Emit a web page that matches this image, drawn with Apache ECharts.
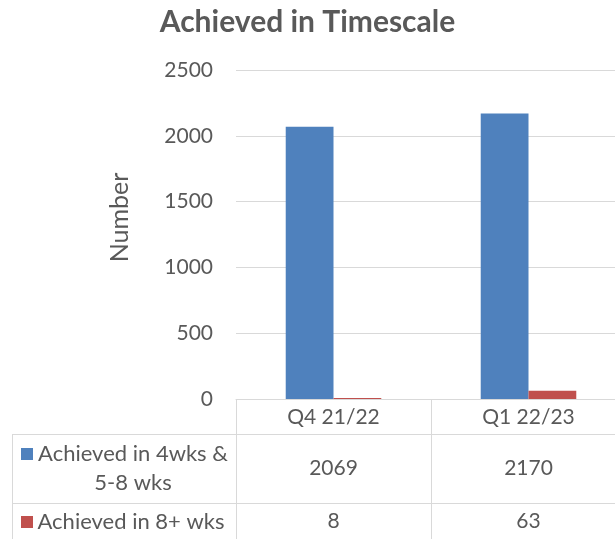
<!DOCTYPE html>
<html>
<head>
<meta charset="utf-8">
<script src="https://cdn.jsdelivr.net/npm/echarts@6/dist/echarts.min.js"></script>
<style>
  html, body { margin: 0; padding: 0; background: #fff; }
  #chart { width: 615px; height: 539px; }
</style>
</head>
<body>
<div id="chart"></div>
<script>
// data
const categories = ['Q4 21/22', 'Q1 22/23']
const seriesNames = ['Achieved in 4wks & 5-8 wks', 'Achieved in 8+ wks']
const within8 = [2069, 2170]
const over8 = [8, 63]
const colors = ['#4F81BD', '#C0504D']

const font = 'Lato, Carlito, sans-serif'
const textColor = '#595959'
const lineColor = '#D9D9D9'

const chart = echarts.init(document.getElementById('chart'))

// one category axis per table row: header, series 1, series 2
function tableAxis (offset, tickLen, margin, formatter) {
    return {
        type: 'category',
        data: categories,
        position: 'bottom',
        offset: offset,
        axisLine: { show: true, lineStyle: { color: lineColor, width: 1 } },
        axisTick: { show: true, length: tickLen, lineStyle: { color: lineColor, width: 1 } },
        axisLabel: {
            interval: 0,
            margin: margin,
            verticalAlign: 'middle',
            color: textColor,
            fontFamily: font,
            fontSize: 21,
            formatter: formatter
        },
        splitLine: { show: false }
    }
}

const option = {
    animation: false,
    title: {
        text: 'Achieved in Timescale',
        left: 'center',
        top: 2,
        textStyle: { fontFamily: font, fontWeight: 'bold', fontSize: 30, color: textColor }
    },
    grid: { left: 236, top: 70, width: 390, bottom: 140, containLabel: false, outerBoundsMode: 'none' },
    xAxis: [
        tableAxis(0, 35, 18, (v) => v),
        tableAxis(35, 69, 34, (v, i) => String(within8[i])),
        tableAxis(104, 45, 18, (v, i) => String(over8[i]))
    ],
    yAxis: {
        type: 'value',
        min: 0,
        max: 2500,
        interval: 500,
        name: 'Number',
        nameLocation: 'middle',
        nameGap: 104,
        nameTextStyle: { fontFamily: font, fontSize: 25, color: textColor, padding: [0, 0, 0, 34] },
        axisLine: { show: false },
        axisTick: { show: false },
        axisLabel: { margin: 23, color: textColor, fontFamily: font, fontSize: 21, formatter: (v) => String(v) },
        splitLine: { lineStyle: { color: lineColor, width: 1 } }
    },
    series: [
        {
            name: seriesNames[0],
            type: 'bar',
            data: within8,
            itemStyle: { color: colors[0] },
            barGap: '0%',
            barCategoryGap: '51%'
        },
        {
            name: seriesNames[1],
            type: 'bar',
            data: over8,
            itemStyle: { color: colors[1] },
            barGap: '0%',
            barCategoryGap: '51%'
        }
    ],
    // row headers of the data table
    graphic: [
        { type: 'line', shape: { x1: 12, y1: 434.5, x2: 236, y2: 434.5 }, style: { stroke: lineColor, lineWidth: 1 } },
        { type: 'line', shape: { x1: 12, y1: 503.5, x2: 236, y2: 503.5 }, style: { stroke: lineColor, lineWidth: 1 } },
        { type: 'line', shape: { x1: 12.5, y1: 434, x2: 12.5, y2: 539 }, style: { stroke: lineColor, lineWidth: 1 } },
        { type: 'rect', shape: { x: 21, y: 448, width: 12, height: 12 }, style: { fill: colors[0] } },
        {
            type: 'text', x: 133, y: 468,
            style: {
                text: 'Achieved in 4wks &\n5-8 wks',
                fill: textColor, font: '22px ' + font,
                align: 'center', verticalAlign: 'middle', lineHeight: 29
            }
        },
        { type: 'rect', shape: { x: 21, y: 516, width: 12, height: 12 }, style: { fill: colors[1] } },
        {
            type: 'text', x: 131, y: 522,
            style: {
                text: seriesNames[1],
                fill: textColor, font: '22px ' + font,
                align: 'center', verticalAlign: 'middle'
            }
        }
    ]
}

chart.setOption(option)
</script>
</body>
</html>
